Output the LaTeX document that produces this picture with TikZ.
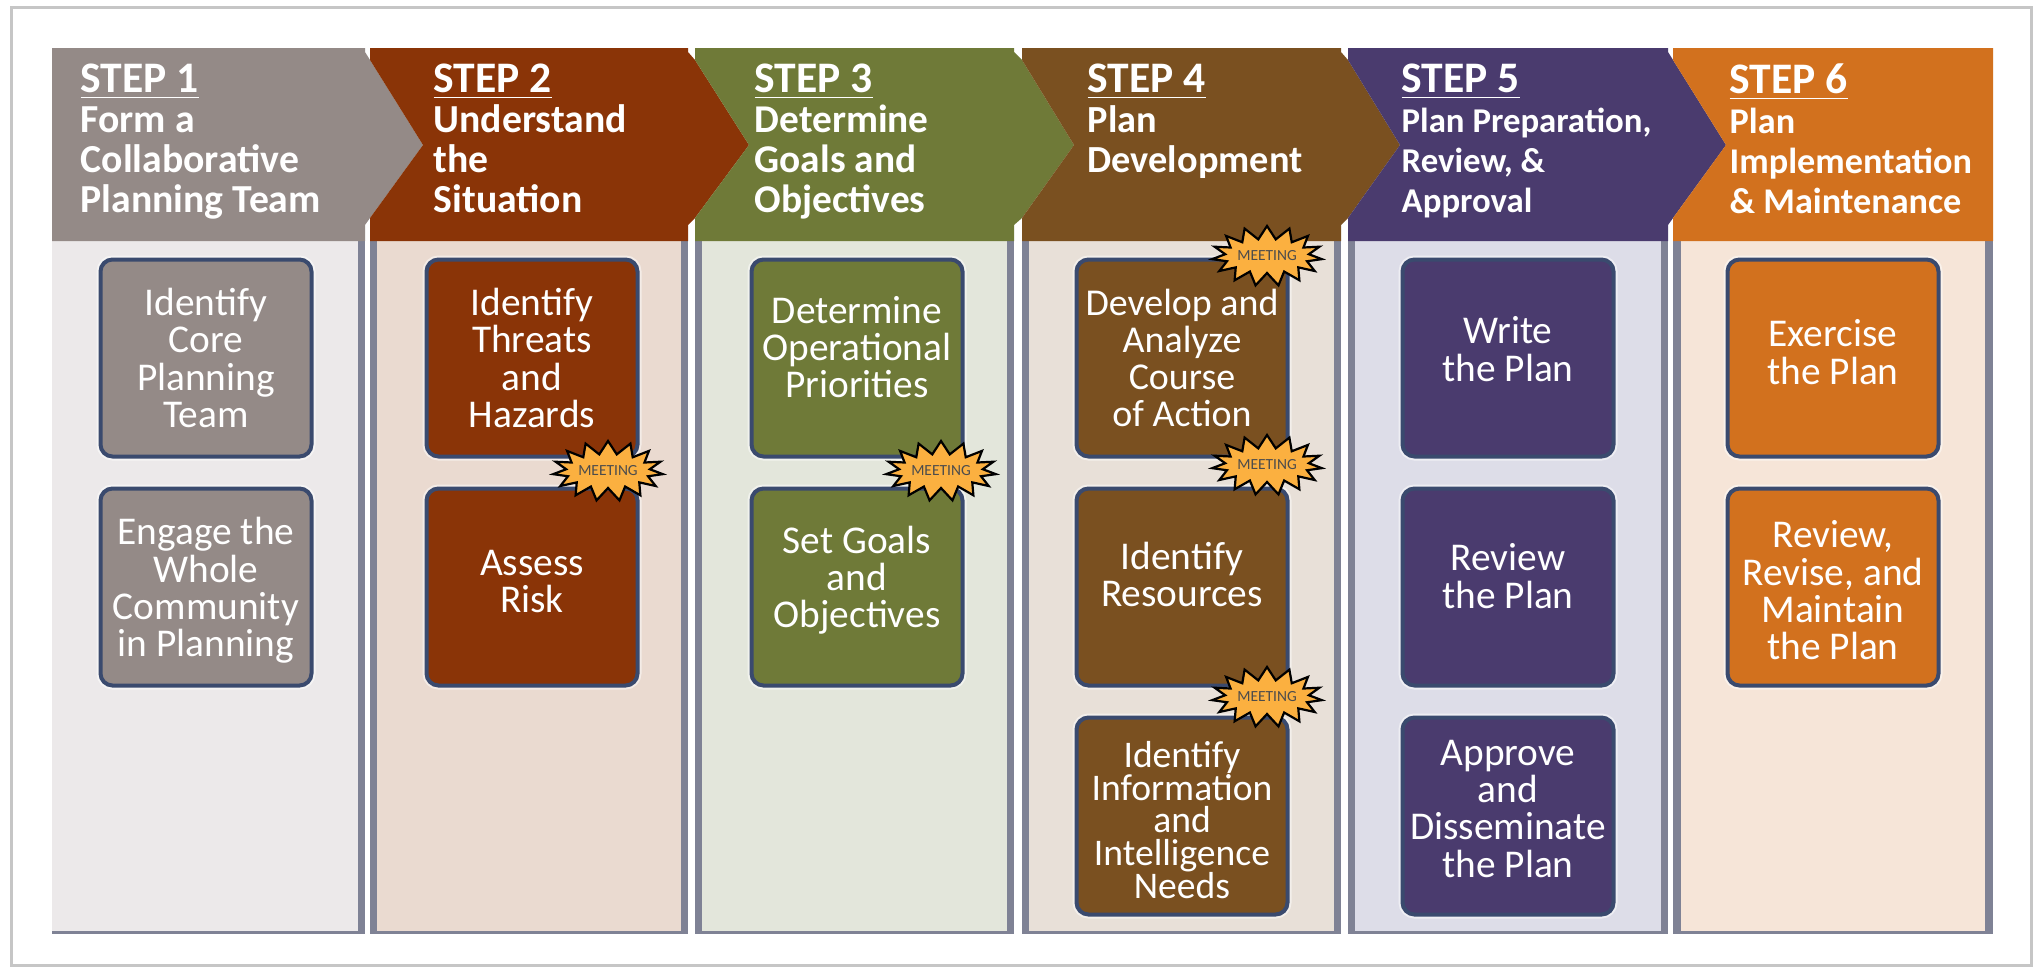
\documentclass[tikz,border=0pt]{standalone}
\usepackage{fontspec}
\setmainfont{Carlito}
\usepackage{xcolor}
\usetikzlibrary{positioning,shapes.symbols}

\definecolor{edgegray}{HTML}{7F8295}
\definecolor{boxedge}{HTML}{3A4A6E}
\definecolor{burst}{HTML}{FBB040}
\definecolor{headone}{HTML}{948A87}
\definecolor{headtwo}{HTML}{8A3407}
\definecolor{headthree}{HTML}{6F7A38}
\definecolor{headfour}{HTML}{7A5020}
\definecolor{headfive}{HTML}{4A3B6E}
\definecolor{headsix}{HTML}{D2711E}
\definecolor{bodyone}{HTML}{ECE9EA}
\definecolor{bodytwo}{HTML}{EADAD0}
\definecolor{bodythree}{HTML}{E3E6DB}
\definecolor{bodyfour}{HTML}{E8E0D8}
\definecolor{bodyfive}{HTML}{DDDDE8}
\definecolor{bodysix}{HTML}{F6E5D8}

\newcommand{\stepline}[1]{{\fontsize{12.4pt}{11.4pt}\selectfont\underline{STEP #1}}}
\newcommand{\lifttext}[1]{\rule[-#1]{0pt}{0pt}}
\newcommand{\droptext}{\rule{0pt}{0.34cm}}

\tikzset{
	steptitle/.style={anchor=north west,align=left,text=white,inner sep=0pt,font=\fontsize{#1}{11.4pt}\selectfont\bfseries},
	stepbox/.style={draw=boxedge,fill=#1,line width=0.04cm,rounded corners=0.12cm,minimum width=2.11cm,minimum height=1.97cm,
		inner sep=0pt,outer sep=0pt,align=center,text=white,font=\fontsize{11.2pt}{10.6pt}\selectfont,
		preaction={draw=white,draw opacity=0.5,line width=0.08cm}},
	meeting/.style={starburst,starburst points=15,random starburst=0,starburst point height=0.13cm,draw=black,fill=burst,line width=0.022cm,
		minimum width=1cm,minimum height=0.6cm,inner sep=0pt,text=black!70,font=\fontsize{4.4pt}{5pt}\selectfont}
}

\begin{document}
\begin{tikzpicture}[y=-1cm]
		\useasboundingbox (0,0) rectangle (20.42,9.67);
		\fill[white] (0,0) rectangle (20.42,9.67);
		\draw[gray!45,line width=0.03cm] (0.12,0.07) rectangle (20.31,9.65);

		% column panels
		\fill[edgegray] (0.52,2.41) rectangle (3.65,9.34);
		\fill[bodyone] (0.52,2.41) rectangle (3.58,9.31);
		\fill[edgegray] (3.70,2.41) rectangle (6.88,9.34);
		\fill[bodytwo] (3.77,2.41) rectangle (6.81,9.31);
		\fill[edgegray] (6.95,2.41) rectangle (10.14,9.34);
		\fill[bodythree] (7.02,2.41) rectangle (10.07,9.31);
		\fill[edgegray] (10.22,2.41) rectangle (13.41,9.34);
		\fill[bodyfour] (10.29,2.41) rectangle (13.34,9.31);
		\fill[edgegray] (13.48,2.41) rectangle (16.68,9.34);
		\fill[bodyfive] (13.55,2.41) rectangle (16.61,9.31);
		\fill[edgegray] (16.73,2.41) rectangle (19.93,9.34);
		\fill[bodysix] (16.81,2.41) rectangle (19.85,9.31);

		% arrow headers
		\fill[headone] (0.52,0.48) -- (3.65,0.48) -- (3.65,0.52) -- (3.70,0.60) -- (4.23,1.45) -- (3.70,2.18) -- (3.65,2.25) -- (3.65,2.41) -- (0.52,2.41) -- cycle;
		\fill[headtwo] (3.70,0.48) -- (6.88,0.48) -- (6.88,0.52) -- (6.95,0.60) -- (7.49,1.45) -- (6.95,2.18) -- (6.88,2.25) -- (6.88,2.41) -- (3.70,2.41) -- (3.70,2.18) -- (4.23,1.45) -- (3.70,0.60) -- cycle;
		\fill[headthree] (6.95,0.48) -- (10.14,0.48) -- (10.14,0.52) -- (10.22,0.60) -- (10.74,1.45) -- (10.22,2.18) -- (10.14,2.25) -- (10.14,2.41) -- (6.95,2.41) -- (6.95,2.18) -- (7.49,1.45) -- (6.95,0.60) -- cycle;
		\fill[headfour] (10.22,0.48) -- (13.41,0.48) -- (13.41,0.52) -- (13.48,0.60) -- (14.00,1.45) -- (13.48,2.18) -- (13.41,2.25) -- (13.41,2.41) -- (10.22,2.41) -- (10.22,2.18) -- (10.74,1.45) -- (10.22,0.60) -- cycle;
		\fill[headfive] (13.48,0.48) -- (16.68,0.48) -- (16.68,0.52) -- (16.73,0.60) -- (17.26,1.45) -- (16.73,2.18) -- (16.68,2.25) -- (16.68,2.41) -- (13.48,2.41) -- (13.48,2.18) -- (14.00,1.45) -- (13.48,0.60) -- cycle;
		\fill[headsix] (16.73,0.48) -- (19.93,0.48) -- (19.93,2.41) -- (16.73,2.41) -- (16.73,2.18) -- (17.26,1.45) -- (16.73,0.60) -- cycle;

		\node[steptitle=11.3pt] (titleone) at (0.80,0.63) {\stepline{1}\\Form a\\Collaborative\\Planning Team};
		\node[steptitle=11.3pt] (titletwo) at (4.33,0.63) {\stepline{2}\\Understand\\the\\Situation};
		\node[steptitle=11.2pt] (titlethree) at (7.54,0.63) {\stepline{3}\\Determine\\Goals and\\Objectives};
		\node[steptitle=10.9pt] (titlefour) at (10.87,0.63) {\stepline{4}\\Plan\\Development};
		\node[steptitle=9.9pt] (titlefive) at (14.01,0.63) {\stepline{5}\\Plan Preparation,\\Review, \&\\Approval};
		\node[steptitle=10.3pt] (titlesix) at (17.29,0.63) {\stepline{6}\\Plan\\Implementation\\\& Maintenance};

		\node[stepbox=headone] (coreteam) at (2.06,3.58) {Identify\\Core\\Planning\\Team};
		\node[stepbox=headone,below=0.32cm of coreteam] (community) {\droptext Engage the\\Whole\\Community\\in Planning};

		\node[stepbox=headtwo] (threats) at (5.32,3.58) {Identify\\Threats\\and\\Hazards};
		\node[stepbox=headtwo,below=0.32cm of threats] (risk) {Assess\\Risk\lifttext{0.12cm}};

		\node[stepbox=headthree] (priorities) at (8.57,3.58) {Determine\\Operational\\Priorities\lifttext{0.22cm}};
		\node[stepbox=headthree,below=0.32cm of priorities] (goals) {Set Goals\\and\\Objectives\lifttext{0.2cm}};

		\node[stepbox=headfour,font=\fontsize{10.8pt}{10.6pt}\selectfont] (courses) at (11.82,3.58) {Develop and\\Analyze\\Course\\of Action};
		\node[stepbox=headfour,below=0.32cm of courses] (resources) {Identify\\Resources\lifttext{0.26cm}};
		\node[stepbox=headfour,font=\fontsize{10.7pt}{9.3pt}\selectfont,below=0.32cm of resources] (intel) {\droptext Identify\\Information\\and\\Intelligence\\Needs};

		\node[stepbox=headfive] (write) at (15.08,3.58) {Write\\the Plan\lifttext{0.18cm}};
		\node[stepbox=headfive,below=0.32cm of write] (review) {Review\\the Plan\lifttext{0.22cm}};
		\node[stepbox=headfive,below=0.32cm of review] (approve) {Approve\\and\\Disseminate\\the Plan\lifttext{0.15cm}};

		\node[stepbox=headsix] (exercise) at (18.33,3.58) {Exercise\\the Plan\lifttext{0.12cm}};
		\node[stepbox=headsix,below=0.32cm of exercise] (maintain) {\droptext Review,\\Revise, and\\Maintain\\the Plan};

		\node[meeting] (meetone) at (6.08,4.71) {MEETING};
		\node[meeting] (meettwo) at (9.41,4.71) {MEETING};
		\node[meeting] (meetthree) at (12.67,2.56) {MEETING};
		\node[meeting] (meetfour) at (12.67,4.65) {MEETING};
		\node[meeting] (meetfive) at (12.67,6.97) {MEETING};
	\end{tikzpicture}
\end{document}
